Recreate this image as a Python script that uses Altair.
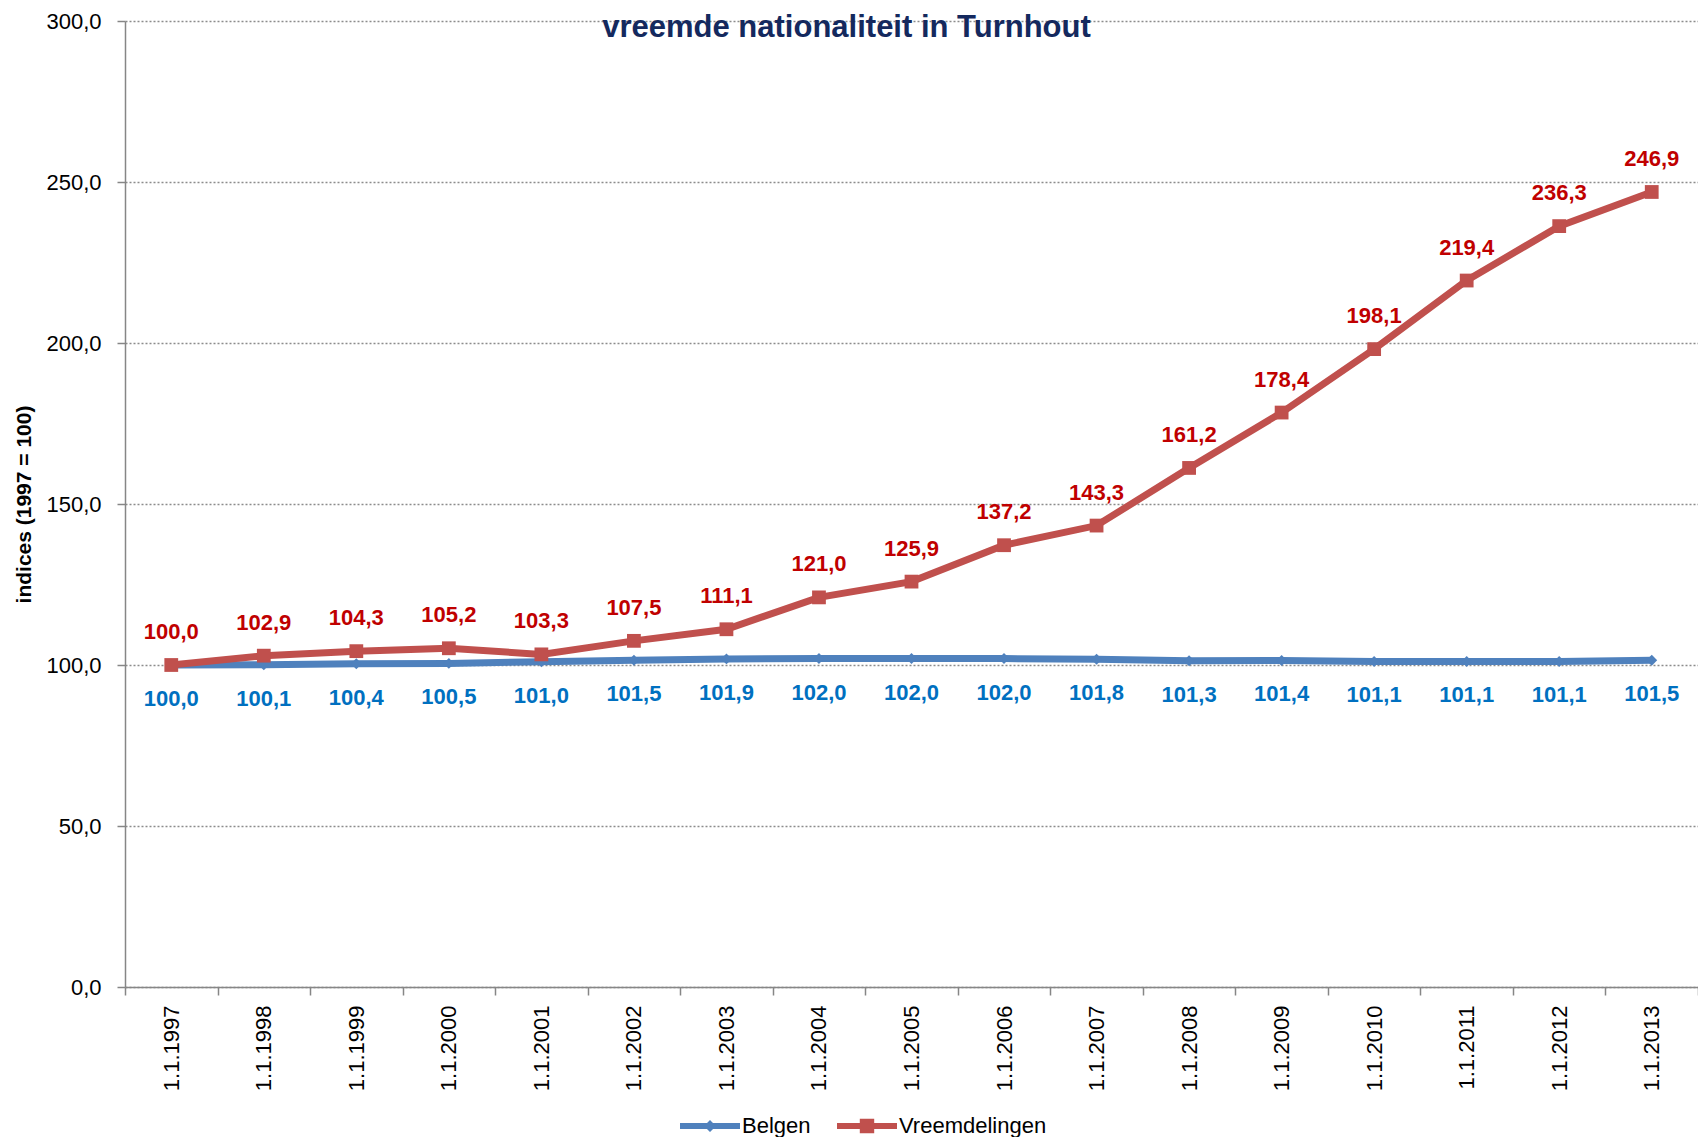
import altair as alt
import pandas as pd

dates = ["1.1.1997", "1.1.1998", "1.1.1999", "1.1.2000", "1.1.2001", "1.1.2002",
         "1.1.2003", "1.1.2004", "1.1.2005", "1.1.2006", "1.1.2007", "1.1.2008",
         "1.1.2009", "1.1.2010", "1.1.2011", "1.1.2012", "1.1.2013"]
belgen = [100.0, 100.1, 100.4, 100.5, 101.0, 101.5, 101.9, 102.0, 102.0, 102.0,
          101.8, 101.3, 101.4, 101.1, 101.1, 101.1, 101.5]
vreemdelingen = [100.0, 102.9, 104.3, 105.2, 103.3, 107.5, 111.1, 121.0, 125.9, 137.2,
                 143.3, 161.2, 178.4, 198.1, 219.4, 236.3, 246.9]
series_names = ["Belgen", "Vreemdelingen"]
y_ticks = [0, 50, 100, 150, 200, 250, 300]

rows = []
for d, b, v in zip(dates, belgen, vreemdelingen):
    rows.append({"date": d, "series": "Belgen", "value": b})
    rows.append({"date": d, "series": "Vreemdelingen", "value": v})
df = pd.DataFrame(rows)

FONT = "Liberation Sans"
BLUE_LINE = "#4F81BD"
RED_LINE = "#C0504D"
BLUE_TXT = "#0070C0"
RED_TXT = "#C00000"

path_b = "M-1,-0.1L1,-0.1L1,0.1L-1,0.1Z M-0.2,0L0,-0.2L0.2,0L0,0.2Z"
path_v = "M-1,-0.1L1,-0.1L1,0.1L-1,0.1Z M-0.24,-0.24L0.24,-0.24L0.24,0.24L-0.24,0.24Z"

x = alt.X(
    "date:N", sort=dates, bandPosition=0.5,
    scale=alt.Scale(type="band", paddingInner=0, paddingOuter=0),
    axis=alt.Axis(
        title=None, labelAngle=270, tickBand="extent", labelFont=FONT,
        labelFontSize=22, labelColor="black", labelPadding=10, tickSize=8,
        tickColor="#868686", domainColor="#868686", domainWidth=1.5, tickWidth=1.5,
        grid=False,
    ),
)
y = alt.Y(
    "value:Q",
    scale=alt.Scale(domain=[0, 300], nice=False),
    axis=alt.Axis(
        values=y_ticks,
        labelExpr="replace(format(datum.value, '.1f'), '.', ',')",
        title="indices (1997 = 100)", titleFont=FONT, titleFontSize=21,
        titleFontWeight="bold", titleColor="black", titleAngle=270,
        titleX=-101, titleY=483, titleAlign="center", titleBaseline="middle",
        labelFont=FONT, labelFontSize=22, labelColor="black", labelPadding=16,
        tickSize=8, tickColor="#868686", domainColor="#868686", domainWidth=1.5,
        tickWidth=1.5, grid=True, gridColor="#8c8c8c", gridDash=[2, 2], gridWidth=1.3,
    ),
)

base = alt.Chart(df).encode(x=x, y=y)
b_base = base.transform_filter("datum.series == 'Belgen'")
v_base = base.transform_filter("datum.series == 'Vreemdelingen'")

line_b = b_base.mark_line(strokeWidth=7, color=BLUE_LINE)
line_v = v_base.mark_line(strokeWidth=7, color=RED_LINE)

pts_b = b_base.mark_point(shape="diamond", filled=True, size=120, opacity=1, color=BLUE_LINE)
pts_v = v_base.mark_point(shape="square", filled=True, size=190, opacity=1, color=RED_LINE)

lab_expr = "replace(format(datum.value, '.1f'), '.', ',')"
txt_b = b_base.transform_calculate(label=lab_expr).mark_text(
    dy=34, font=FONT, fontSize=22, fontWeight="bold", color=BLUE_TXT).encode(text="label:N")
txt_v = v_base.transform_calculate(label=lab_expr).mark_text(
    dy=-33, font=FONT, fontSize=22, fontWeight="bold", color=RED_TXT).encode(text="label:N")

leg = dict(title=None, orient="none", legendX=555, legendY=1075, direction="horizontal",
           symbolSize=3600, symbolStrokeWidth=0, symbolOpacity=1, labelFont=FONT,
           labelFontSize=22, labelColor="black", columnPadding=26, labelOffset=2)

legend_layer = base.transform_filter("datum.value < 0").mark_point(
    filled=True, opacity=1, size=3600, strokeWidth=0).encode(
    color=alt.Color("series:N", scale=alt.Scale(domain=series_names, range=[BLUE_LINE, RED_LINE]),
                    legend=alt.Legend(**leg)),
    shape=alt.Shape("series:N", scale=alt.Scale(domain=series_names, range=[path_b, path_v]),
                    legend=alt.Legend(**leg)),
)

chart = alt.layer(line_b, line_v, pts_b, pts_v, txt_b, txt_v, legend_layer).properties(
    width=1573, height=966,
    autosize=alt.AutoSizeParams(type="none"),
    padding={"left": 117, "top": 13, "right": 0, "bottom": 150},
    title=alt.Title("vreemde nationaliteit in Turnhout", font=FONT, fontSize=31,
                    fontWeight="bold", color="#14295E", anchor="middle", offset=-34,
                    dx=-65),
).configure_view(stroke=None).configure_legend(symbolSize=3600)

chart.save("out.html", embed_options={"renderer": "svg", "actions": False})
